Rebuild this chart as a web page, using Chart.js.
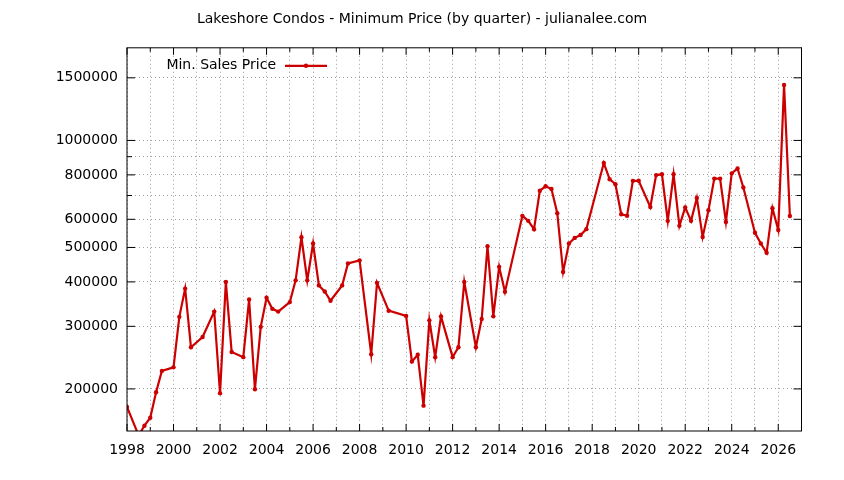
<!DOCTYPE html>
<html>
<head>
<meta charset="utf-8">
<title>Lakeshore Condos - Minimum Price</title>
<script src="https://cdn.jsdelivr.net/npm/chart.js@4.4.1/dist/chart.umd.min.js"></script>
<style>
  html, body { margin: 0; padding: 0; background: #fff; }
</style>
</head>
<body>
<canvas id="priceChart" width="844" height="480"></canvas>
<script>
// quarter (decimal year) and minimum sale price for that quarter
const quarters = [
  1998.0, 1998.5, 1998.75, 1999.0, 1999.25, 1999.5,
  2000.0, 2000.25, 2000.5, 2000.75, 2001.25, 2001.75,
  2002.0, 2002.25, 2002.5, 2003.0, 2003.25, 2003.5, 2003.75,
  2004.0, 2004.25, 2004.5, 2005.0, 2005.25, 2005.5, 2005.75,
  2006.0, 2006.25, 2006.5, 2006.75, 2007.25, 2007.5,
  2008.0, 2008.5, 2008.75, 2009.25,
  2010.0, 2010.25, 2010.5, 2010.75, 2011.0, 2011.25, 2011.5,
  2012.0, 2012.25, 2012.5, 2013.0, 2013.25, 2013.5, 2013.75,
  2014.0, 2014.25, 2015.0, 2015.25, 2015.5, 2015.75,
  2016.0, 2016.25, 2016.5, 2016.75, 2017.0, 2017.25, 2017.5, 2017.75,
  2018.5, 2018.75, 2019.0, 2019.25, 2019.5, 2019.75,
  2020.0, 2020.5, 2020.75, 2021.0, 2021.25, 2021.5, 2021.75,
  2022.0, 2022.25, 2022.5, 2022.75, 2023.0, 2023.25, 2023.5, 2023.75,
  2024.0, 2024.25, 2024.5, 2025.0, 2025.25, 2025.5, 2025.75,
  2026.0, 2026.25, 2026.5
];
const minPrices = [
  178000, 148000, 157600, 166000, 195700, 224800,
  230000, 319000, 383000, 262000, 280000, 330000,
  194500, 400000, 254000, 245700, 357000, 199500, 299000,
  361000, 336000, 330000, 351000, 404000, 534000, 404000,
  513000, 391000, 376000, 354000, 391000, 451000,
  460000, 250400, 397600, 332000,
  321000, 238800, 249500, 179500, 311800, 245700, 320000,
  245700, 262000, 400000, 262000, 314600, 504000, 320000,
  441000, 375000, 613600, 594000, 562800, 722000,
  743000, 730000, 624000, 426500, 513000, 532000, 542000, 563000,
  863600, 778000, 753000, 620000, 614000, 769600,
  770000, 650000, 799000, 803000, 594000, 803000, 575000,
  648000, 594000, 688600, 535000, 636000, 781000, 781000, 590000,
  808000, 834000, 737000, 550000, 513000, 483000, 644600,
  560000, 1433000, 613000
];
// y grid lines, and the ones that carry a label
const yGridValues = [200000, 300000, 400000, 500000, 600000, 700000, 800000, 900000, 1000000, 1500000];
const yLabelValues = [200000, 300000, 400000, 500000, 600000, 800000, 1000000, 1500000];

const FONT = 'DejaVu Sans';
const LINE_RED = '#cc0000';

// gnuplot-like frame, inward ticks on all four sides, legend inside the plot
const gnuplotFrame = {
  id: 'gnuplotFrame',
  afterDatasetsDraw(chart) {
    const { ctx, chartArea: a, scales: { x, y } } = chart;
    ctx.save();
    ctx.strokeStyle = '#000';
    ctx.lineWidth = 1;
    ctx.beginPath();
    x.ticks.forEach(t => {
      const px = x.getPixelForValue(t.value);
      const len = t.value % 2 === 0 ? 7 : 4;
      ctx.moveTo(px, a.bottom); ctx.lineTo(px, a.bottom - len);
      ctx.moveTo(px, a.top); ctx.lineTo(px, a.top + len);
    });
    y.ticks.forEach(t => {
      const py = y.getPixelForValue(t.value);
      const len = yLabelValues.includes(t.value) ? 8 : 5;
      ctx.moveTo(a.left, py); ctx.lineTo(a.left + len, py);
      ctx.moveTo(a.right, py); ctx.lineTo(a.right - len, py);
    });
    ctx.stroke();
    ctx.strokeRect(a.left, a.top, a.right - a.left, a.bottom - a.top);

    // legend: label then a line sample with a point
    const ds = chart.data.datasets[0];
    const ly = a.top + 18;
    ctx.font = '14px "' + FONT + '"';
    ctx.fillStyle = '#000';
    ctx.textAlign = 'right';
    ctx.textBaseline = 'middle';
    ctx.fillText(ds.label, a.left + 149, ly);
    ctx.strokeStyle = ds.borderColor;
    ctx.lineWidth = ds.borderWidth;
    ctx.beginPath();
    ctx.moveTo(a.left + 158, ly);
    ctx.lineTo(a.left + 200, ly);
    ctx.stroke();
    ctx.fillStyle = ds.pointBackgroundColor;
    ctx.beginPath();
    ctx.arc(a.left + 179, ly, ds.pointRadius, 0, Math.PI * 2);
    ctx.fill();
    ctx.restore();
  }
};

const ctx = document.getElementById('priceChart').getContext('2d');
new Chart(ctx, {
  type: 'scatter',
  data: {
    datasets: [{
      label: 'Min. Sales Price',
      data: quarters.map((q, i) => ({ x: q, y: minPrices[i] })),
      showLine: true,
      borderColor: LINE_RED,
      backgroundColor: LINE_RED,
      pointBackgroundColor: LINE_RED,
      pointBorderWidth: 0,
      borderWidth: 2.2,
      pointRadius: 2.2,
      tension: 0
    }]
  },
  options: {
    responsive: false,
    animation: false,
    layout: { padding: 0 },
    plugins: {
      legend: { display: false },
      tooltip: { enabled: false },
      title: {
        display: true,
        text: 'Lakeshore Condos - Minimum Price (by quarter) - julianalee.com',
        color: '#000',
        font: { family: FONT, size: 14, weight: 'normal' },
        padding: { top: 11, bottom: 20 }
      }
    },
    scales: {
      x: {
        type: 'linear',
        min: 1998,
        max: 2027,
        afterFit(scale) { scale.height = 49; },
        ticks: {
          stepSize: 1,
          autoSkip: false,
          maxRotation: 0,
          padding: 11,
          color: '#000',
          font: { family: FONT, size: 14 },
          callback: v => (v % 2 === 0 && v <= 2026 ? String(v) : '')
        },
        grid: { color: '#a0a0a0', lineWidth: 1, drawTicks: false },
        border: { display: false, dash: [1, 3] }
      },
      y: {
        type: 'logarithmic',
        min: 152300,
        max: 1822000,
        afterFit(scale) { scale.width = 127; },
        afterBuildTicks(scale) {
          scale.ticks = yGridValues.map(v => ({ value: v }));
        },
        ticks: {
          autoSkip: false,
          padding: 9,
          color: '#000',
          font: { family: FONT, size: 14 },
          callback: v => (yLabelValues.includes(v) ? String(v) : '')
        },
        grid: { color: '#a0a0a0', lineWidth: 1, drawTicks: false },
        border: { display: false, dash: [1, 3] }
      },
      // empty right-hand axis that only reserves the right margin
      yRight: {
        type: 'linear',
        position: 'right',
        afterFit(scale) { scale.width = 42.5; },
        ticks: { display: false },
        grid: { display: false, drawTicks: false },
        border: { display: false }
      }
    }
  },
  plugins: [gnuplotFrame]
});
</script>
</body>
</html>
